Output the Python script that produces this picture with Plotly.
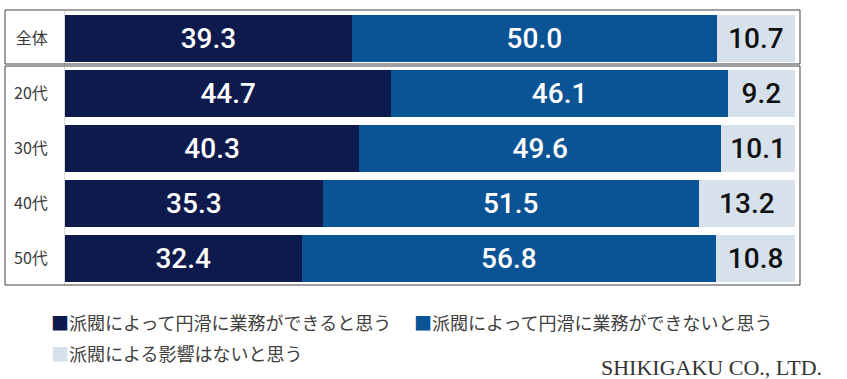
import plotly.graph_objects as go

categories = ["全体", "20代", "30代", "40代", "50代"]
can_do = [39.3, 44.7, 40.3, 35.3, 32.4]
cannot_do = [50.0, 46.1, 49.6, 51.5, 56.8]
no_effect = [10.7, 9.2, 10.1, 13.2, 10.8]
series_names = [
    "派閥によって円滑に業務ができると思う",
    "派閥によって円滑に業務ができないと思う",
    "派閥による影響はないと思う",
]
colors = ["#0e1a4c", "#0a5394", "#d6e1ec"]
text_colors = ["#ffffff", "#ffffff", "#111111"]
credit = "SHIKIGAKU CO., LTD."

W, H = 847, 379
L, R, T, B = 65, 52, 11, 93
PW, PH = W - L - R, H - T - B

def px(x):
    return (x - L) / PW

def py(y):
    return (H - B - y) / PH

fig = go.Figure()
for name, vals, c, tc in zip(series_names, [can_do, cannot_do, no_effect], colors, text_colors):
    fig.add_trace(go.Bar(
        y=categories, x=vals, orientation="h", name=name,
        marker=dict(color=c, line=dict(width=0)),
        text=[f"{v:.1f}" for v in vals], textposition="inside",
        insidetextanchor="middle",
        textfont=dict(family="Roboto", size=28, color=tc, weight=500),
        showlegend=False,
    ))

fig.update_layout(
    barmode="stack", bargap=0.145,
    width=W, height=H,
    margin=dict(l=L, r=R, t=T, b=B),
    paper_bgcolor="white", plot_bgcolor="white",
    xaxis=dict(range=[0, 100], visible=False),
    yaxis=dict(autorange="reversed", categoryorder="array", categoryarray=categories,
               showgrid=False, showline=True, linecolor="#d9d9d9", linewidth=1,
               ticks="", ticklabelstandoff=13,
               tickfont=dict(family="Noto Sans CJK JP", size=16, color="#3a3a3a")),
    shapes=[
        dict(type="rect", xref="paper", yref="paper", x0=px(5), x1=px(800), y0=py(64), y1=py(10),
             line=dict(color="#404040", width=1)),
        dict(type="rect", xref="paper", yref="paper", x0=px(5), x1=px(800), y0=py(285), y1=py(66),
             line=dict(color="#404040", width=1)),
    ],
)

legend_pos = [(49, 322), (412, 322), (49, 353)]
for (lx, ly), name, c in zip(legend_pos, series_names, colors):
    fig.add_annotation(
        xref="paper", yref="paper", x=px(lx), y=py(ly), xanchor="left", yanchor="middle",
        showarrow=False,
        text=f"<span style='color:{c}'>■</span>{name}",
        font=dict(family="Noto Sans CJK JP", size=18, color="#404040"),
    )

fig.add_annotation(
    xref="paper", yref="paper", x=px(824), y=py(367), xanchor="right", yanchor="middle",
    showarrow=False, text=credit,
    font=dict(family="Liberation Serif", size=22, color="#333333"),
)

fig.write_html("out.html", config={"displayModeBar": False})

with open("out.html", encoding="utf-8") as f:
    html = f.read()
html = html.replace("<body>", "<body style=\"margin:0;padding:0;overflow:hidden\">", 1)
with open("out.html", "w", encoding="utf-8") as f:
    f.write(html)
